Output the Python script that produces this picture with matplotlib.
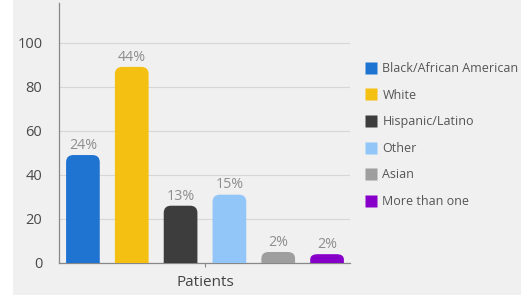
import matplotlib.pyplot as plt
from matplotlib.patches import PathPatch, Rectangle
from matplotlib.path import Path
from matplotlib.lines import Line2D

# data
groups = ['Black/African American', 'White', 'Hispanic/Latino', 'Other', 'Asian', 'More than one']
patients = [49, 89, 26, 31, 5, 4]
percent_labels = ['24%', '44%', '13%', '15%', '2%', '2%']
colors = ['#1f74d2', '#f4c012', '#3d3d3d', '#92c5f8', '#9e9e9e', '#8700c9']

plt.rcParams['font.family'] = ['Open Sans', 'DejaVu Sans']


def round_top_bar(ax, x, h, width, rx, ry, color):
    # bar with rounded top corners, square bottom
    ry = min(ry, h * 0.6)
    x0, x1 = x - width / 2, x + width / 2
    verts = [(x0, 0), (x0, h - ry), (x0, h), (x0 + rx, h), (x1 - rx, h),
             (x1, h), (x1, h - ry), (x1, 0), (x0, 0)]
    codes = [Path.MOVETO, Path.LINETO, Path.CURVE3, Path.CURVE3, Path.LINETO,
             Path.CURVE3, Path.CURVE3, Path.LINETO, Path.CLOSEPOLY]
    ax.add_patch(PathPatch(Path(verts, codes), facecolor=color, edgecolor='none', zorder=3))


fig = plt.figure(figsize=(5.21, 2.95), dpi=100, facecolor='white')
fig.patches.append(Rectangle((13 / 521, 0), 1, 1, transform=fig.transFigure,
                             facecolor='#f0f0f0', edgecolor='none', zorder=-10))

ax = fig.add_axes([59 / 521, 1 - 263 / 295, 291 / 521, 260 / 295])
ax.set_facecolor('none')

xs = list(range(len(groups)))
for x, v, c, lab in zip(xs, patients, colors, percent_labels):
    round_top_bar(ax, x, v, 0.69, 0.15, 3.3, c)
    ax.text(x, v + 1.0, lab, ha='center', va='bottom', fontsize=10.3, color='#8e8e8e', zorder=4)

ax.set_xlim(-0.49, 5.47)
ax.set_ylim(0, 118)
ax.set_yticks([0, 20, 40, 60, 80, 100])
ax.tick_params(axis='y', labelsize=10.5, labelcolor='#4a4a4a', length=0, pad=12)
ax.set_xticks([2.5])
ax.set_xticklabels(['Patients'])
ax.tick_params(axis='x', labelsize=11, labelcolor='#444444', length=3, color='#888888', pad=6)
ax.grid(axis='y', color='#d6d6d6', linewidth=0.8, zorder=0)
for s in ['top', 'right']:
    ax.spines[s].set_visible(False)
ax.spines['left'].set_color('#888888')
ax.spines['bottom'].set_color('#888888')
ax.spines['left'].set_linewidth(0.9)
ax.spines['bottom'].set_linewidth(0.9)

handles = [Line2D([], [], linestyle='none', marker='s', markersize=8.8,
                  markerfacecolor=c, markeredgecolor='none') for c in colors]
fig.legend(handles, groups, loc='upper left', bbox_to_anchor=(355 / 521, 1 - 52 / 295),
           frameon=False, fontsize=9, labelcolor='#555555', handlelength=0.9,
           handletextpad=0.5, labelspacing=1.09, borderpad=0.3)

fig.savefig('out.png', dpi=100, facecolor=fig.get_facecolor())
